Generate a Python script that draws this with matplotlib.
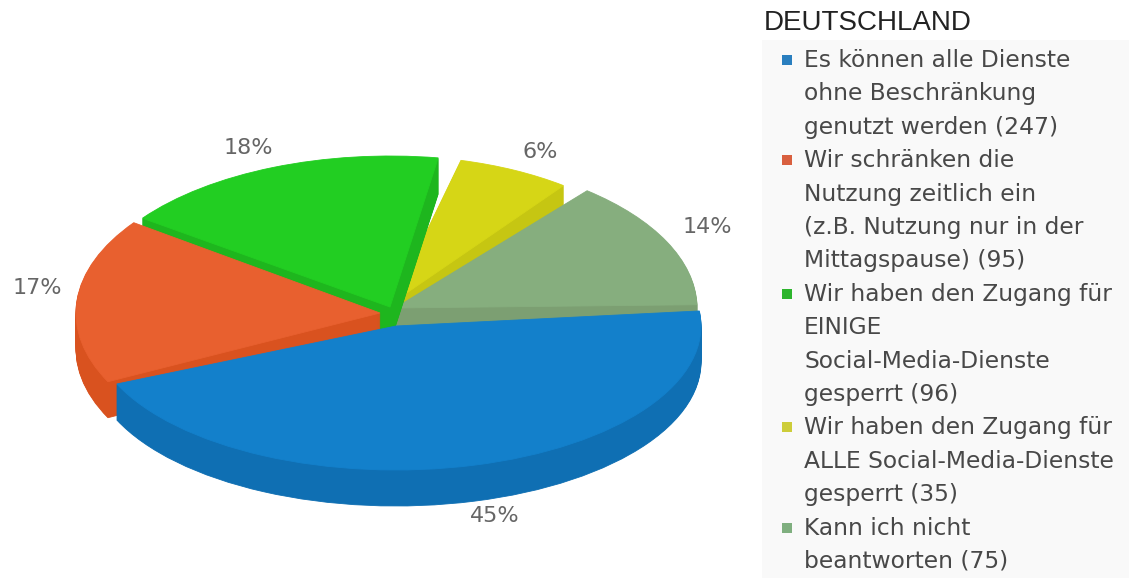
import matplotlib
matplotlib.use("Agg")
import matplotlib.pyplot as plt
from matplotlib.patches import Rectangle
from matplotlib.transforms import Affine2D

title = "DEUTSCHLAND"
category_lines = [
    ["Es können alle Dienste", "ohne Beschränkung", "genutzt werden"],
    ["Wir schränken die", "Nutzung zeitlich ein", "(z.B. Nutzung nur in der", "Mittagspause)"],
    ["Wir haben den Zugang für", "EINIGE", "Social-Media-Dienste", "gesperrt"],
    ["Wir haben den Zugang für", "ALLE Social-Media-Dienste", "gesperrt"],
    ["Kann ich nicht", "beantworten"],
]
values = [247, 95, 96, 35, 75]
top_colors = ["#1380CB", "#E8602F", "#22CE22", "#D6D616", "#86AE7E"]
wall_colors = ["#0F6FB3", "#D9521F", "#1EB61E", "#C6C612", "#7C9F72"]
marker_colors = ["#2A7FBF", "#D9603F", "#2DB52D", "#CDCD3A", "#7FAF7F"]

# layout of each exploded slice: apex x, apex y, radius x, radius y, start angle
slice_layout = [
    (396, 326, 305, 144, 6.0),
    (380, 313, 304, 154, 206.5),
    (390, 307, 306, 151, 144.0),
    (392, 303, 285, 147, 76.0),
    (395, 308, 302, 152, 50.5),
]
draw_order = [3, 4, 2, 1, 0]
label_pos = [(495, 516), (37, 288), (248, 148), (540, 152), (707, 227)]
DEPTH = 36

total = sum(values)
fig = plt.figure(figsize=(11.29, 5.8), dpi=100)
ax = fig.add_axes([0, 0, 1, 1])


def draw_layer(i, dy, color):
    cx, cy, rx, ry, start = slice_layout[i]
    wedges, _ = ax.pie([values[i], total - values[i]], colors=[color, "none"],
                       startangle=start, counterclock=False, radius=1,
                       wedgeprops={"linewidth": 0.6, "edgecolor": color})
    wedges[1].remove()
    wedges[0].set_transform(Affine2D().scale(rx, -ry).translate(cx, cy + dy) + ax.transData)


for i in draw_order:
    for dy in range(DEPTH, 0, -1):
        draw_layer(i, dy, wall_colors[i])
    draw_layer(i, 0, top_colors[i])

ax.set_aspect("auto")
ax.set_xlim(0, 1129)
ax.set_ylim(580, 0)
ax.axis("off")

for v, (x, y) in zip(values, label_pos):
    ax.text(x, y, f"{round(v / total * 100)}%", ha="center", va="center",
            fontsize=16, color="#666666", family="DejaVu Sans")

ax.text(764, 23, title, ha="left", va="center", fontsize=20, color="#222222",
        family="Liberation Sans")
ax.add_patch(Rectangle((762, 40), 367, 538, facecolor="#F9F9F9", edgecolor="none"))

row = 0
for lines, v, mc in zip(category_lines, values, marker_colors):
    ax.scatter([787], [60 + 33.4 * row], marker="s", s=50, color=mc, linewidths=0, zorder=3)
    for j, line in enumerate(lines):
        txt = f"{line} ({v})" if j == len(lines) - 1 else line
        ax.text(804, 60.5 + 33.4 * row, txt, ha="left", va="center", fontsize=16.8,
                color="#484848", family="DejaVu Sans", zorder=3)
        row += 1

fig.savefig("out.png", dpi=100, facecolor="white")
